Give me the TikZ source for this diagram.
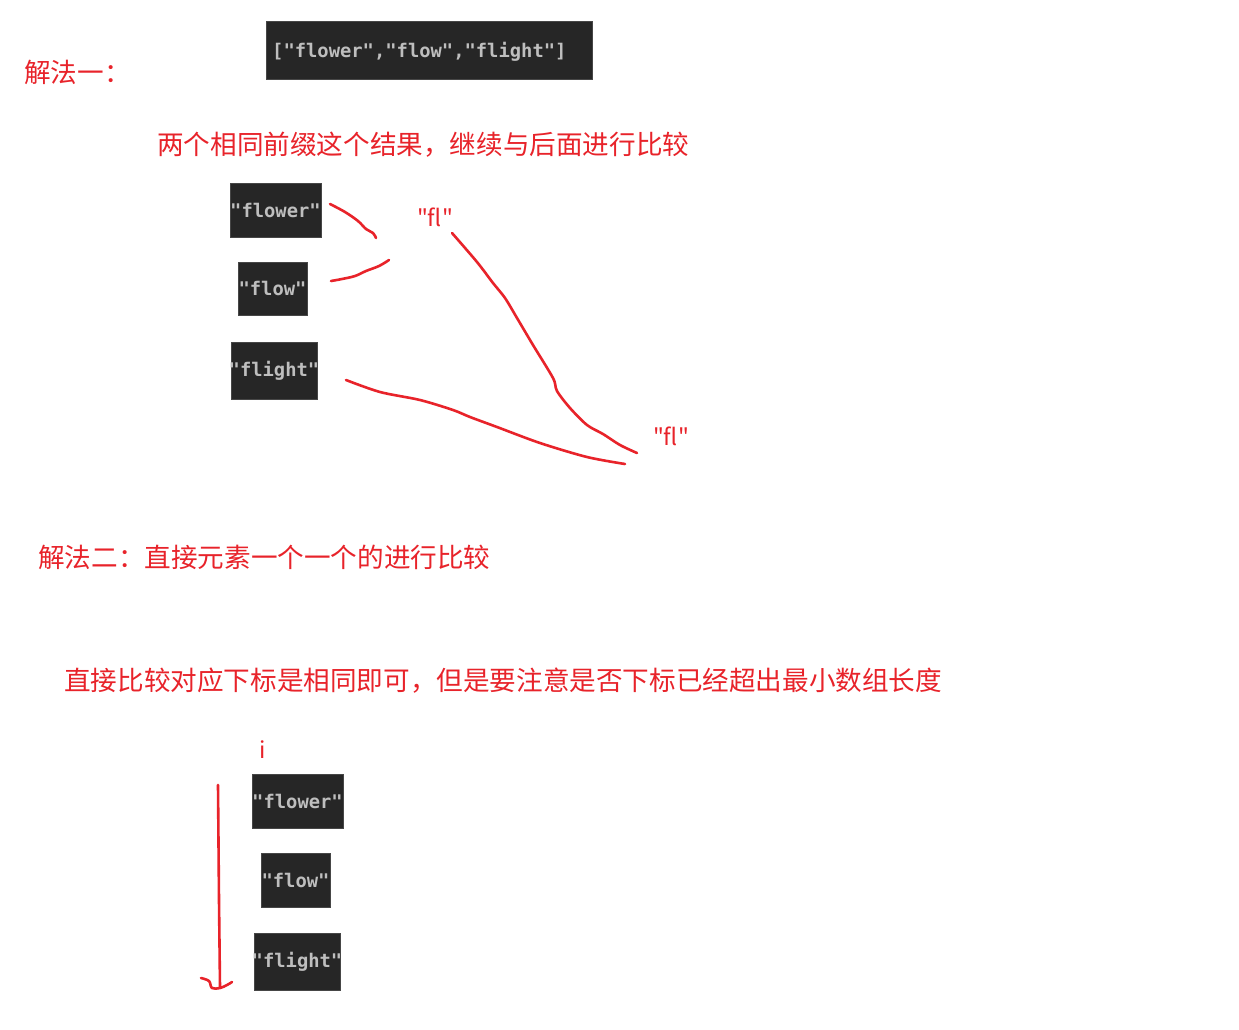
\documentclass[tikz,border=0pt]{standalone}
\usepackage{fontspec}
\usetikzlibrary{fit}
\newfontfamily\cjk{Noto Sans CJK SC}
\newfontfamily\mono{DejaVu Sans Mono}
\definecolor{rd}{RGB}{232,35,42}
\definecolor{boxbg}{RGB}{38,38,38}
\definecolor{boxedge}{RGB}{70,70,70}
\definecolor{codefg}{RGB}{190,190,190}
\tikzset{
  cbox/.style={inner sep=0pt, fill=boxbg, draw=boxedge, line width=0.6pt},
  codetxt/.style={inner sep=0pt, text=codefg, font=\mono\bfseries\fontsize{18.8}{20}\selectfont},
  cntext/.style={inner sep=0pt, anchor=west, text=rd, font=\cjk\fontsize{26.6}{30}\selectfont},
  lbl/.style={inner sep=0pt, text=rd, font=\cjk\fontsize{23}{25}\selectfont},
  stroke/.style={draw=rd, line width=2.6pt, line cap=round, line join=round}
}
\newcommand\codebox[6]{%
  \node[cbox, fit={(#2,#3) (#4,#5)}] (#1) {};
  \begin{scope}
    \clip (#1.south west) rectangle (#1.north east);
    \node[codetxt] (#1t) at (#1.center) {#6};
  \end{scope}}
\begin{document}
\begin{tikzpicture}[x=1pt,y=-1pt]
\useasboundingbox[fill=white] (0,0) rectangle (1239,1029);

% top array box
\node[cbox, fit={(266,21) (592,79)}] (arr) {};
\node[codetxt, anchor=west] (arrt) at (272,52) {["flower","flow","flight"]};

% headings
\node[cntext] (h1) at (24,72) {解法一：};
\node[cntext] (h2) at (157,145) {两个相同前缀这个结果，继续与后面进行比较};
\node[cntext] (h3) at (38,557) {解法二：直接元素一个一个的进行比较};
\node[cntext] (h4) at (64,681) {直接比较对应下标是相同即可，但是要注意是否下标已经超出最小数组长度};

% method 1 boxes
\codebox{a1}{230}{183}{321}{237}{"flower"}
\codebox{a2}{238}{262}{307}{315}{"flow"}
\codebox{a3}{231}{342}{317}{399}{"flight"}

% method 2 boxes
\codebox{b1}{252}{774}{343}{828}{"flower"}
\codebox{b2}{261}{853}{330}{907}{"flow"}
\codebox{b3}{254}{933}{340}{990}{"flight"}

% labels
\node[lbl] (fl1) at (435,217) {"fl"};
\node[lbl] (fl2) at (671,436) {"fl"};
\node[lbl] (ii) at (263,750) {i};

% hand-drawn strokes
\draw[stroke] plot[smooth, tension=0.6] coordinates {(330,204) (345,212) (358,221) (366,229) (373,233) (376,238)};
\draw[stroke] plot[smooth, tension=0.6] coordinates {(331,281) (342,279) (355,276) (366,271) (379,266) (389,260)};
\draw[stroke] plot[smooth, tension=0.5] coordinates {(452,233) (477,262) (493,283) (505,298) (517,318) (533,345) (553,378) (557,391) (570,408) (587,425) (603,434) (620,445) (637,453)};
\draw[stroke] plot[smooth, tension=0.5] coordinates {(346,380) (380,392) (420,400) (453,410) (470,417) (497,427) (540,443) (587,457) (625,464)};

% arrow
\coordinate (arTop) at (218,785);
\coordinate (arBot) at (220,987);
\draw[stroke] (arTop) -- (219,900) -- (arBot);
\draw[stroke] plot[smooth, tension=0.6] coordinates {(201,978) (209,981) (212,988) (220,988) (227,985) (232,982)};
\end{tikzpicture}
\end{document}
